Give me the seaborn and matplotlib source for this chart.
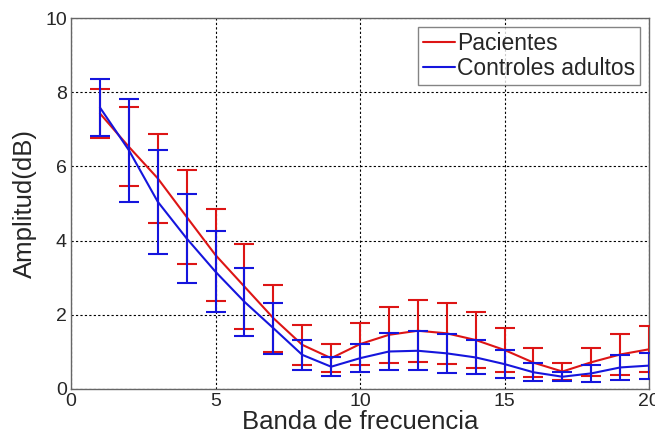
import matplotlib
matplotlib.use("Agg")
import matplotlib.pyplot as plt
import seaborn as sns
import pandas as pd
import numpy as np

bands = list(range(1, 21))
pacientes = [7.43, 6.53, 5.68, 4.64, 3.61, 2.76, 1.91, 1.19, 0.83, 1.21,
             1.46, 1.57, 1.50, 1.32, 1.05, 0.71, 0.47, 0.72, 0.93, 1.07]
pacientes_err = [0.67, 1.06, 1.20, 1.26, 1.24, 1.14, 0.90, 0.54, 0.38, 0.57,
                 0.76, 0.83, 0.82, 0.75, 0.60, 0.39, 0.23, 0.38, 0.55, 0.62]
controles = [7.59, 6.44, 5.05, 4.06, 3.16, 2.35, 1.64, 0.92, 0.60, 0.83,
             1.01, 1.03, 0.96, 0.85, 0.67, 0.45, 0.33, 0.42, 0.58, 0.63]
controles_err = [0.76, 1.39, 1.40, 1.21, 1.09, 0.92, 0.69, 0.40, 0.25, 0.38,
                 0.49, 0.53, 0.52, 0.46, 0.37, 0.24, 0.12, 0.23, 0.33, 0.35]
series_names = ["Pacientes", "Controles adultos"]
x_ticks = [0, 5, 10, 15, 20]
y_ticks = [0, 2, 4, 6, 8, 10]

sns.set_style("white")
plt.rcParams['font.family'] = ['Liberation Sans', 'DejaVu Sans']

df = pd.DataFrame({
    "banda": bands * 2,
    "amp": pacientes + controles,
    "err": pacientes_err + controles_err,
    "grupo": [series_names[0]] * len(bands) + [series_names[1]] * len(bands),
})

colors = {series_names[0]: "#dd1515", series_names[1]: "#1515dd"}

fig = plt.figure(figsize=(6.55, 4.41), dpi=100)
ax = fig.add_axes([0.1084, 0.118, 0.8826, 0.841])

sns.lineplot(data=df, x="banda", y="amp", hue="grupo", palette=colors,
             hue_order=series_names, ax=ax, linewidth=1.5, errorbar=None,
             legend=True, zorder=3)
for name in series_names:
    sub = df[df["grupo"] == name]
    ax.errorbar(sub["banda"], sub["amp"], yerr=sub["err"], fmt="none",
                ecolor=colors[name], elinewidth=1.5, capsize=7, capthick=1.5,
                zorder=3, clip_on=True)

ax.set_xlim(0, 20)
ax.set_ylim(0, 10)
ax.set_xticks(x_ticks)
ax.set_yticks(y_ticks)
ax.tick_params(axis="both", labelsize=14, direction="in", length=4,
               color="#555555", pad=3)
ax.grid(True, linestyle=(0, (2, 2)), color="black", linewidth=0.8)
for s in ax.spines.values():
    s.set_color("#666666")
    s.set_linewidth(1.0)
ax.set_xlabel("Banda de frecuencia", fontsize=18.5, labelpad=0)
ax.set_ylabel("Amplitud(dB)", fontsize=18.5, labelpad=6)

leg = ax.legend(loc="upper right", fontsize=16.5, frameon=True, fancybox=False,
                handlelength=1.4, handletextpad=0.1, borderpad=0.2,
                labelspacing=0.1, borderaxespad=0.4, edgecolor="#666666")
leg.get_frame().set_linewidth(1.0)
for line in leg.get_lines():
    line.set_linewidth(1.5)

fig.savefig("out.png", dpi=100)
